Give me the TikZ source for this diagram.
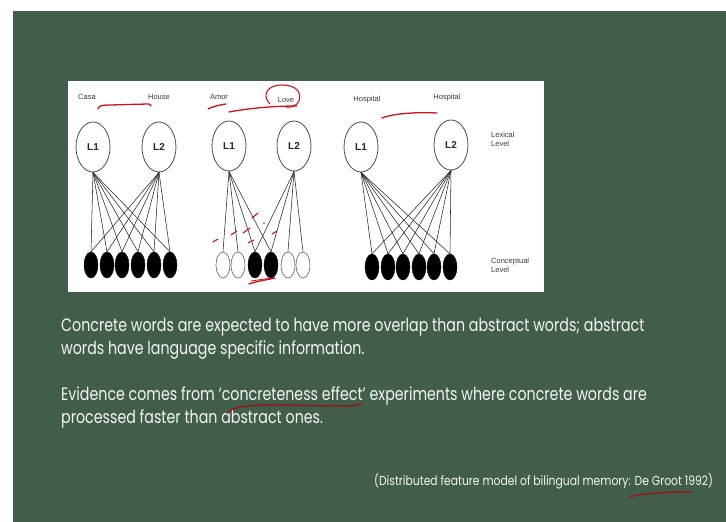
\documentclass[tikz,border=0pt]{standalone}
\usepackage{fontspec}
\setmainfont{Liberation Sans}
\newfontfamily\slidefont[FakeStretch=0.79]{Poppins}
\newfontfamily\notefont[FakeStretch=0.83]{Poppins}
\usetikzlibrary{shapes.geometric}
\definecolor{slidegreen}{HTML}{415E4B}
\definecolor{inkred}{HTML}{C8141E}
\definecolor{labelgray}{HTML}{3A3A3A}
\tikzset{
  lexnode/.style={ellipse, draw=black!70, line width=0.8pt, fill=white,
    minimum width=34pt, minimum height=50pt, inner sep=0pt,
    font=\bfseries\fontsize{10}{10}\selectfont, text=black!85},
  fullnode/.style={ellipse, fill=black, draw=black, line width=0.4pt,
    minimum width=14pt, minimum height=26pt, inner sep=0pt},
  emptynode/.style={ellipse, fill=white, draw=black!55, line width=0.7pt,
    minimum width=14pt, minimum height=26pt, inner sep=0pt},
  link/.style={line width=0.55pt, black!85},
  word/.style={font=\fontsize{7.5}{7.5}\selectfont, text=labelgray, inner sep=0pt},
  levellabel/.style={font=\fontsize{7.5}{9}\selectfont, text=labelgray, inner sep=0pt, align=left, anchor=west},
  slidetext/.style={font=\slidefont\fontsize{18}{20}\selectfont, text=white!94!slidegreen, inner sep=0pt, anchor=base west},
  notetext/.style={font=\notefont\fontsize{13}{14}\selectfont, text=white!94!slidegreen, inner sep=0pt, anchor=base west},
  pen/.style={inkred, line width=1.3pt, line cap=round, line join=round},
}
\begin{document}
\begin{tikzpicture}[x=1pt,y=-1pt]
% page, slide and figure panel
\fill[white] (0,0) rectangle (726,522);
\useasboundingbox (0,0) rectangle (726,522);
\fill[slidegreen] (13,11) rectangle (726,522);
\fill[white] (68,81) rectangle (544,292);

% ---- panel 1: concrete words (Casa / House)
\node[word] (w1a) at (87,97) {Casa};
\node[word] (w1b) at (159,97) {House};
\node[lexnode] (p1a) at (93,147) {L1};
\node[lexnode] (p1b) at (159,147) {L2};
\foreach \i/\x in {1/91,2/107,3/122,4/138,5/154,6/170}{
  \node[fullnode] (p1c\i) at (\x,265) {};
}
\foreach \i in {1,...,6}{
  \draw[link] (p1a.south) -- (p1c\i.north);
  \draw[link] (p1b.south) -- (p1c\i.north);
}

% ---- panel 2: abstract words (Amor / Love)
\node[word] (w2a) at (219,97) {Amor};
\node[word] (w2b) at (286,100) {Love};
\node[lexnode] (p2a) at (229,146) {L1};
\node[lexnode] (p2b) at (294,146) {L2};
\node[emptynode] (p2c1) at (223,265) {};
\node[emptynode] (p2c2) at (238,265) {};
\node[fullnode]  (p2c3) at (255,265) {};
\node[fullnode]  (p2c4) at (271,265) {};
\node[emptynode] (p2c5) at (288,265) {};
\node[emptynode] (p2c6) at (303,265) {};
\foreach \i in {1,...,4}{
  \draw[link] (p2a.south) -- (p2c\i.north);
}
\foreach \i in {3,...,6}{
  \draw[link] (p2b.south) -- (p2c\i.north);
}

% ---- panel 3: cognates (Hospital / Hospital)
\node[word] (w3a) at (367,100) {Hospital};
\node[word] (w3b) at (447,98) {Hospital};
\node[lexnode] (p3a) at (361,147) {L1};
\node[lexnode] (p3b) at (451,145) {L2};
\foreach \i/\x in {1/372,2/388,3/403,4/419,5/434,6/450}{
  \node[fullnode] (p3c\i) at (\x,267) {};
}
\foreach \i in {1,...,6}{
  \draw[link] (p3a.south) -- (p3c\i.north);
  \draw[link] (p3b.south) -- (p3c\i.north);
}

% level labels
\node[levellabel] (lex) at (491,139) {Lexical\\Level};
\node[levellabel] (con) at (491,265) {Conceptual\\Level};

% ---- slide text
\node[slidetext] (t1) at (61,331) {Concrete words are expected to have more overlap than abstract words; abstract};
\node[slidetext] (t2) at (61,354) {words have language specific information.};
\node[slidetext] (t3) at (61,400) {Evidence comes from ‘concreteness effect’ experiments where concrete words are};
\node[slidetext] (t4) at (61,423) {processed faster than abstract ones.};
\node[notetext] (t5) at (374,485) {(Distributed feature model of bilingual memory: De Groot 1992)};

% ---- hand-drawn red ink
\draw[pen] (98,109) .. controls (99,106) and (101,105) .. (110,105) -- (148,104) .. controls (150,104) .. (151,106);
\draw[pen] (208,109) .. controls (214,106) and (220,105) .. (226,104);
\draw[pen] (229,112) .. controls (250,108) and (275,106) .. (297,106);
\draw[pen, line width=1.1pt] (270,104) .. controls (262,96) and (266,85) .. (282,85)
  .. controls (296,85) and (302,92) .. (299,101) .. controls (297,106) and (290,108) .. (286,107);
\draw[pen] (382,118) .. controls (395,113) and (420,112) .. (437,113);
% crossing-out ticks on the L1 links
\draw[pen, line width=1.1pt] (213,242) -- (218,239);
\draw[pen, line width=1.1pt] (231,235) -- (237,231);
\draw[pen, line width=1.1pt] (243,233) -- (250,228);
\draw[pen, line width=1.1pt] (252,218) -- (258,213);
\fill[inkred] (264,223) circle (0.8);
\draw[pen, line width=1.1pt] (248,243) -- (254,240);
\draw[pen, line width=1.1pt] (272,234) -- (277,231);
\draw[pen] (249,284) .. controls (258,281) and (266,280) .. (275,278);
\draw[pen, line width=0.9pt] (251,281) -- (272,278);
% underlines in the slide text
\draw[pen, inkred!80!black] (228,413) .. controls (232,407) and (245,405) .. (275,405) -- (345,406) .. controls (355,406) .. (362,403);
\draw[pen, inkred!80!black] (630,497) .. controls (650,492) and (672,492) .. (692,492);
\end{tikzpicture}
\end{document}
